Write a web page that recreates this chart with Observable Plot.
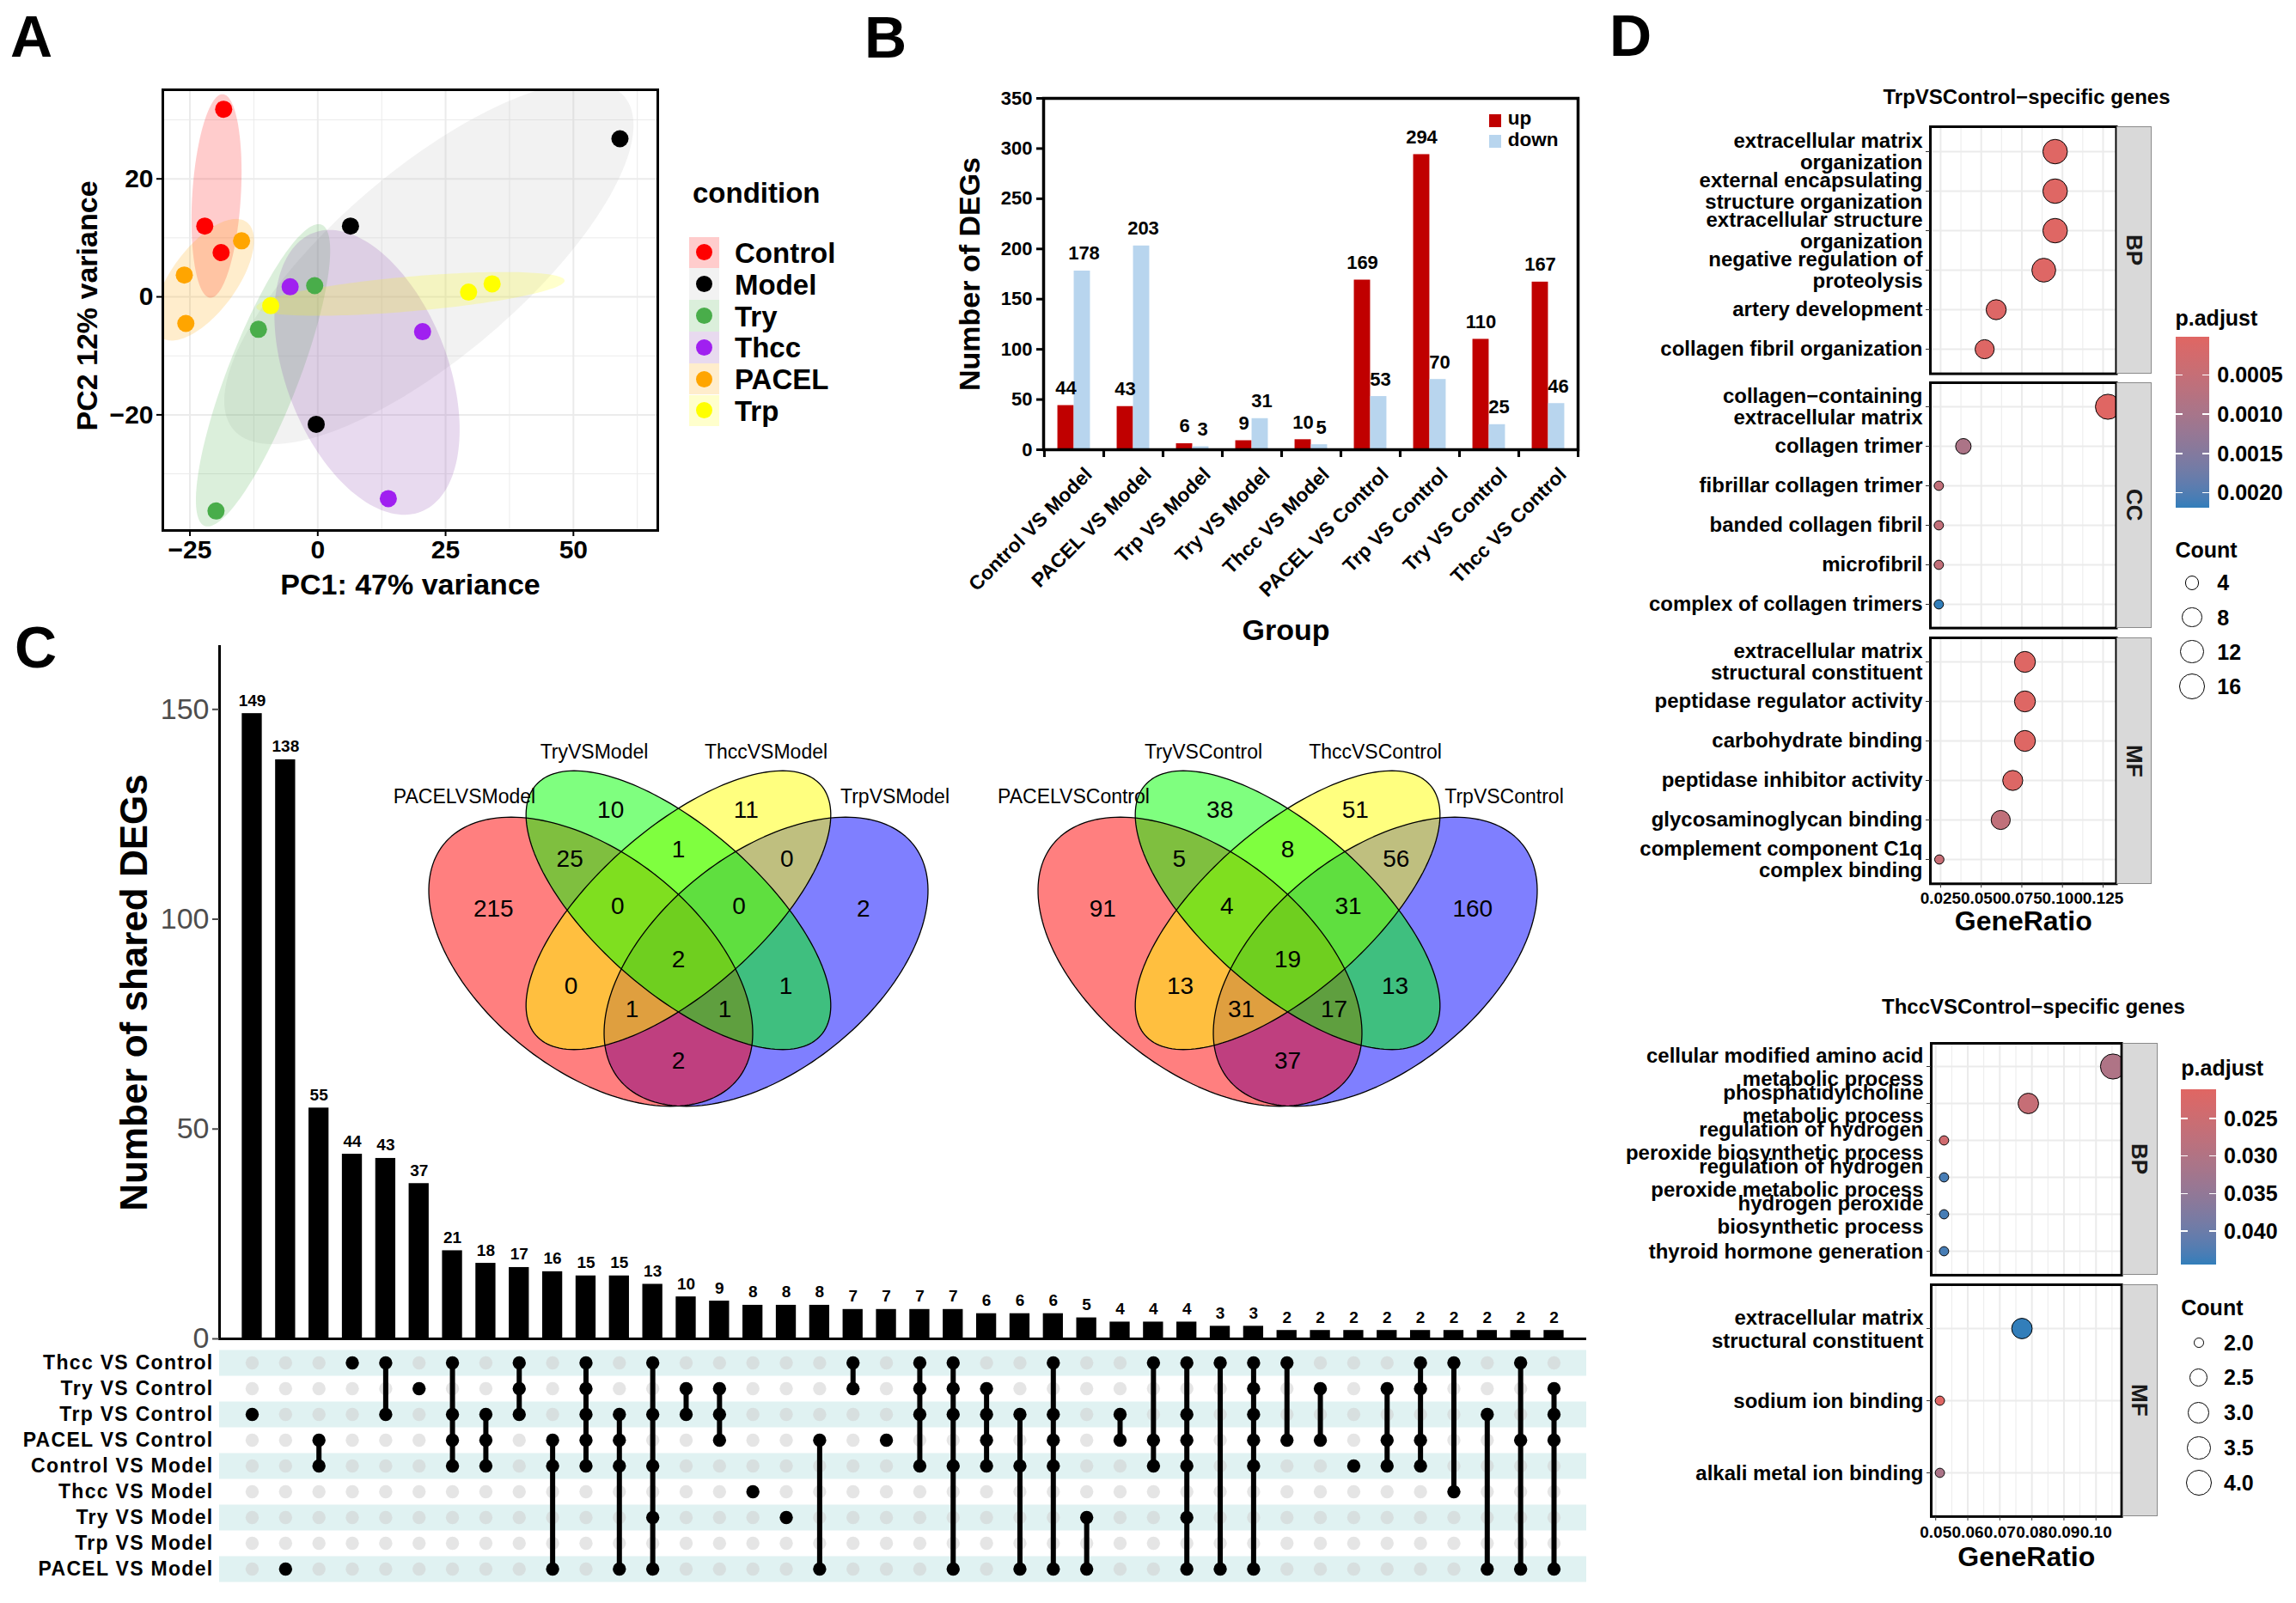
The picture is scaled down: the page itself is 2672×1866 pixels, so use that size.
<!DOCTYPE html>
<html>
<head>
<meta charset="utf-8">
<title>Figure</title>
<script src="https://cdn.jsdelivr.net/npm/d3@7"></script>
<script src="https://cdn.jsdelivr.net/npm/@observablehq/plot@0.6"></script>
<style>
html,body{margin:0;padding:0;background:#fff;}
#fig{position:relative;width:2672px;height:1866px;overflow:hidden;background:#fff;}
#fig svg{overflow:visible;}
.upsetm text{letter-spacing:1.3px;}
</style>
</head>
<body>
<div id="fig"></div>
<script>
// ======================= DATA =======================
// ---- Panel A: PCA ----
const pcaGroups = ["Control", "Model", "Try", "Thcc", "PACEL", "Trp"];
const pcaCondition = ["Control","Control","Control","Model","Model","Model","Try","Try","Try","Thcc","Thcc","Thcc","PACEL","PACEL","PACEL","Trp","Trp","Trp"];
const pcaPC1 = [-18.4, -22.1, -18.9, 59.1, 6.4, -0.3, -0.6, -11.6, -19.9, -5.4, 20.5, 13.8, -14.9, -26.1, -25.8, -9.2, 29.5, 34.1];
const pcaPC2 = [31.8, 12.0, 7.5, 26.8, 12.0, -21.6, 1.9, -5.5, -36.3, 1.7, -5.9, -34.2, 9.5, 3.7, -4.5, -1.5, 0.8, 2.2];
const pcaXTicks = [-25, 0, 25, 50];
const pcaYTicks = [-20, 0, 20];
const pcaPointColors = ["#ff0000", "#000000", "#49ad4a", "#a020f0", "#ffa500", "#ffff00"];
const pcaFillColors = ["#ff0000", "#bdbdbd", "#49ad4a", "#8e44ad", "#ffa500", "#ffff00"];

// ---- Panel B: DEG counts ----
const degGroups = ["Control VS Model", "PACEL VS Model", "Trp VS Model", "Try VS Model", "Thcc VS Model", "PACEL VS Control", "Trp VS Control", "Try VS Control", "Thcc VS Control"];
const degUp = [44, 43, 6, 9, 10, 169, 294, 110, 167];
const degDown = [178, 203, 3, 31, 5, 53, 70, 25, 46];
const degYTicks = [0, 50, 100, 150, 200, 250, 300, 350];

// ---- Panel C: UpSet ----
const upsetSets = ["Thcc VS Control", "Try VS Control", "Trp VS Control", "PACEL VS Control", "Control VS Model", "Thcc VS Model", "Try VS Model", "Trp VS Model", "PACEL VS Model"];
const upsetCounts = [149, 138, 55, 44, 43, 37, 21, 18, 17, 16, 15, 15, 13, 10, 9, 8, 8, 8, 7, 7, 7, 7, 6, 6, 6, 5, 4, 4, 4, 3, 3, 2, 2, 2, 2, 2, 2, 2, 2, 2];
// membership: indices into upsetSets
const upsetMembers = [[2],[8],[3,4],[0],[0,2],[1],[0,2,3,4],[2,3,4],[0,1,2],[3,4,8],[0,1,2,3,4],[2,3,4,8],[0,2,4,6,8],[1,2],[1,2,3],[5],[6],[3,8],[0,1],[3],[0,1,2,4],[0,1,2,4,8],[1,2,3,4],[2,4,8],[0,2,3,4,8],[6,8],[2,3],[0,3,4],[0,2,3,4,6,8],[0,8],[0,1,2,3,4,8],[0,3],[1,3],[4],[1,3,4],[0,1,3,4],[0,5],[2,8],[0,3,8],[1,2,3,8]];
const upsetYTicks = [0, 50, 100, 150];

// ---- Panel C: Venn diagrams (set order: PACEL, Try, Thcc, Trp) ----
const vennSetsModel = ["PACELVSModel", "TryVSModel", "ThccVSModel", "TrpVSModel"];
const vennSetsControl = ["PACELVSControl", "TryVSControl", "ThccVSControl", "TrpVSControl"];
const vennRegions = ["1000","0100","0010","0001","1100","0110","0011","1110","0111","1010","1111","0101","1011","1101","1001"];
const vennModelCounts = [215, 10, 11, 2, 25, 1, 0, 0, 0, 0, 2, 1, 1, 1, 2];
const vennControlCounts = [91, 38, 51, 160, 5, 8, 56, 4, 31, 13, 19, 13, 31, 17, 37];

// ---- Panel D: GO enrichment ----
const goTrpTerms = ["extracellular matrix\norganization", "external encapsulating\nstructure organization", "extracellular structure\norganization", "negative regulation of\nproteolysis", "artery development", "collagen fibril organization",
  "collagen\u2212containing\nextracellular matrix", "collagen trimer", "fibrillar collagen trimer", "banded collagen fibril", "microfibril", "complex of collagen trimers",
  "extracellular matrix\nstructural constituent", "peptidase regulator activity", "carbohydrate binding", "peptidase inhibitor activity", "glycosaminoglycan binding", "complement component C1q\ncomplex binding"];
const goTrpOnt = ["BP","BP","BP","BP","BP","BP","CC","CC","CC","CC","CC","CC","MF","MF","MF","MF","MF","MF"];
const goTrpRatio = [0.0955, 0.0955, 0.0955, 0.0885, 0.0592, 0.0521, 0.1280, 0.0390, 0.0239, 0.0239, 0.0239, 0.0239, 0.0769, 0.0769, 0.0769, 0.0694, 0.0620, 0.0242];
const goTrpCount = [15, 15, 15, 14, 9, 8, 16, 5, 3, 3, 3, 3, 10, 10, 10, 9, 8, 3];
const goTrpPadj = [0.00004, 0.00004, 0.00004, 0.00006, 0.00008, 0.00006, 0.000015, 0.00093, 0.00056, 0.00056, 0.00056, 0.00219, 0.00005, 0.00005, 0.00005, 0.00007, 0.00060, 0.00046];
const goTrpXTicks = [0.025, 0.05, 0.075, 0.1, 0.125];
const goTrpPTicks = [0.0005, 0.0010, 0.0015, 0.0020];
const goTrpSizeBreaks = [4, 8, 12, 16];

const goThccTerms = ["cellular modified amino acid\nmetabolic process", "phosphatidylcholine\nmetabolic process", "regulation of hydrogen\nperoxide biosynthetic process", "regulation of hydrogen\nperoxide metabolic process", "hydrogen peroxide\nbiosynthetic process", "thyroid hormone generation",
  "extracellular matrix\nstructural constituent", "sodium ion binding", "alkali metal ion binding"];
const goThccOnt = ["BP","BP","BP","BP","BP","BP","MF","MF","MF"];
const goThccRatio = [0.1053, 0.0789, 0.0526, 0.0526, 0.0526, 0.0526, 0.0769, 0.0513, 0.0513];
const goThccCount = [4, 3, 2, 2, 2, 2, 3, 2, 2];
const goThccPadj = [0.0304, 0.0262, 0.0242, 0.0432, 0.0432, 0.0432, 0.0444, 0.0211, 0.0310];
const goThccXTicks = [0.05, 0.06, 0.07, 0.08, 0.09, 0.10];
const goThccPTicks = [0.025, 0.030, 0.035, 0.040];
const goThccSizeBreaks = [2.0, 2.5, 3.0, 3.5, 4.0];

// ======================= HELPERS =======================
const FONT = "'Liberation Sans', Arial, Helvetica, sans-serif";
const fig = document.getElementById("fig");
const baseStyle = {fontFamily: FONT, background: "transparent", overflow: "visible", color: "#000"};

function put(node, left, top) {
  const d = document.createElement("div");
  d.style.cssText = `position:absolute;left:${left}px;top:${top}px;`;
  d.appendChild(node);
  fig.appendChild(d);
  return d;
}
function htmlText(str, x, baseline, o = {}) {
  const size = o.size || 20;
  const d = document.createElement("div");
  d.textContent = str;
  const tx = o.anchor === "middle" ? "-50%" : o.anchor === "end" ? "-100%" : "0";
  d.style.cssText = `position:absolute;left:${x}px;top:${baseline - 0.8465 * size}px;font-family:${o.family || FONT};font-weight:${o.weight || "normal"};font-size:${size}px;line-height:1;white-space:pre;color:${o.color || "#000"};transform:translateX(${tx});`;
  fig.appendChild(d);
  return d;
}
function box(x, y, w, h, css) {
  const d = document.createElement("div");
  d.style.cssText = `position:absolute;left:${x}px;top:${y}px;width:${w}px;height:${h}px;box-sizing:border-box;${css || ""}`;
  fig.appendChild(d);
  return d;
}
function minorTicks(ticks, dom) {
  const step = ticks[1] - ticks[0];
  const out = ticks.slice(1).map((v, i) => (v + ticks[i]) / 2);
  if (ticks[0] - step / 2 > dom[0]) out.unshift(ticks[0] - step / 2);
  if (ticks[ticks.length - 1] + step / 2 < dom[1]) out.push(ticks[ticks.length - 1] + step / 2);
  return out;
}
// minimum enclosing ellipse of a point set (Steiner ellipse for 3 points), expanded by e px
function enclosingEllipse(pts, e, n = 160) {
  const cx = d3.mean(pts, p => p[0]), cy = d3.mean(pts, p => p[1]);
  let sxx = 0, syy = 0, sxy = 0;
  for (const [x, y] of pts) { sxx += (x - cx) ** 2; syy += (y - cy) ** 2; sxy += (x - cx) * (y - cy); }
  sxx /= pts.length; syy /= pts.length; sxy /= pts.length;
  const m = (sxx + syy) / 2, dd = Math.sqrt(((sxx - syy) / 2) ** 2 + sxy ** 2);
  const l1 = m + dd, l2 = Math.max(m - dd, 0);
  const ang = 0.5 * Math.atan2(2 * sxy, sxx - syy);
  const a = Math.sqrt(2 * l1) + e, b = Math.sqrt(2 * l2) + e;
  return d3.range(n + 1).map(i => {
    const t = 2 * Math.PI * i / n, u = a * Math.cos(t), v = b * Math.sin(t);
    return [cx + u * Math.cos(ang) - v * Math.sin(ang), cy + u * Math.sin(ang) + v * Math.cos(ang)];
  });
}

// ======================= PANEL LETTERS =======================
htmlText("A", 12, 66, {size: 68, weight: "bold"});
htmlText("B", 1006, 67, {size: 68, weight: "bold"});
htmlText("C", 17, 777, {size: 68, weight: "bold"});
htmlText("D", 1873, 65, {size: 68, weight: "bold"});

// ======================= PANEL A =======================
try {
  const Wd = 800, Ht = 720, fL = 189, fT = 104, fR = 765, fB = 617;
  const xd = [-30.3, 66.5], yd = [-39.6, 35.1];
  const sx = (fR - fL) / (xd[1] - xd[0]), sy = (fB - fT) / (yd[1] - yd[0]);
  const samples = pcaPC1.map((x, i) => ({x, y: pcaPC2[i], g: pcaCondition[i]}));
  const ellMarks = pcaGroups.map((g, gi) => {
    const pts = samples.filter(s => s.g === g).map(s => [s.x * sx, s.y * sy]);
    const ring = enclosingEllipse(pts, 16).map(([u, v]) => ({x: u / sx, y: v / sy}));
    return Plot.line(ring, {x: "x", y: "y", fill: pcaFillColors[gi], fillOpacity: 0.2, stroke: "none", clip: true});
  });
  const svg = Plot.plot({
    width: Wd, height: Ht, marginLeft: fL, marginTop: fT, marginRight: Wd - fR, marginBottom: Ht - fB,
    style: baseStyle,
    x: {domain: xd}, y: {domain: yd},
    color: {domain: pcaGroups, range: pcaPointColors},
    marks: [
      Plot.gridX({ticks: minorTicks(pcaXTicks, xd), stroke: "#ebebeb", strokeOpacity: 1, strokeWidth: 1}),
      Plot.gridY({ticks: minorTicks(pcaYTicks, yd), stroke: "#ebebeb", strokeOpacity: 1, strokeWidth: 1}),
      Plot.gridX({ticks: pcaXTicks, stroke: "#ebebeb", strokeOpacity: 1, strokeWidth: 2}),
      Plot.gridY({ticks: pcaYTicks, stroke: "#ebebeb", strokeOpacity: 1, strokeWidth: 2}),
      ...ellMarks,
      Plot.dot(samples, {x: "x", y: "y", fill: "g", r: 10}),
      Plot.frame({stroke: "black", strokeWidth: 3}),
      Plot.axisX({ticks: pcaXTicks, tickSize: 7, tickPadding: 4, fontSize: 30, fontWeight: "bold", strokeWidth: 2, label: null}),
      Plot.axisY({ticks: pcaYTicks, tickSize: 7, tickPadding: 4, fontSize: 30, fontWeight: "bold", strokeWidth: 2, label: null}),
      Plot.text(["PC1: 47% variance"], {text: d => d, frameAnchor: "bottom", dy: 74, lineAnchor: "bottom", fontSize: 34, fontWeight: "bold"}),
      Plot.text(["PC2 12% variance"], {text: d => d, frameAnchor: "left", textAnchor: "middle", dx: -77, dy: -5, rotate: -90, lineAnchor: "bottom", fontSize: 34, fontWeight: "bold"})
    ]
  });
  put(svg, 0, 0);
  // legend
  htmlText("condition", 806, 236, {size: 33, weight: "bold"});
  pcaGroups.forEach((g, i) => {
    const top = 275.5 + i * 36.8;
    const bg = d3.interpolateRgb("#ffffff", pcaFillColors[i])(0.2);
    box(802, top, 35, 36.8, `background:${bg};`);
    box(819.5 - 9.5, top + 18.4 - 9.5, 19, 19, `background:${pcaPointColors[i]};border-radius:50%;`);
    htmlText(g, 855, top + 18.4 + 12, {size: 33, weight: "bold"});
  });
} catch (e) { console.error("Panel A", e); }

// ======================= PANEL B =======================
try {
  const L = 1000, T = 0, Wd = 860, Ht = 760;
  const fL = 1214, fT = 114, fR = 1836, fB = 523;
  const bw = (fR - fL) / degGroups.length, barW = 19;
  const up = degGroups.map((g, i) => ({g, v: degUp[i]}));
  const down = degGroups.map((g, i) => ({g, v: degDown[i]}));
  const svg = Plot.plot({
    width: Wd, height: Ht, marginLeft: fL - L, marginTop: fT - T, marginRight: L + Wd - fR, marginBottom: T + Ht - fB,
    style: baseStyle,
    x: {type: "band", domain: degGroups, padding: 0},
    y: {domain: [0, 350]},
    marks: [
      Plot.barY(up, {x: "g", y: "v", fill: "#c00000", insetLeft: bw / 2 - barW, insetRight: bw / 2}),
      Plot.barY(down, {x: "g", y: "v", fill: "#b8d5ee", insetLeft: bw / 2, insetRight: bw / 2 - barW}),
      Plot.text(up, {x: "g", y: "v", text: d => String(d.v), dx: -barW / 2, dy: -13, lineAnchor: "bottom", fontSize: 22, fontWeight: "bold"}),
      Plot.text(down, {x: "g", y: "v", text: d => String(d.v), dx: barW / 2 + 2, dy: -13, lineAnchor: "bottom", fontSize: 22, fontWeight: "bold"}),
      Plot.frame({stroke: "black", strokeWidth: 3.5}),
      Plot.axisY({ticks: degYTicks, tickSize: 8, tickPadding: 5, fontSize: 22, fontWeight: "bold", strokeWidth: 3, label: null}),
      Plot.axisX({tickSize: 9, tickFormat: () => "", dx: -bw / 2, strokeWidth: 3, label: null}),
      Plot.axisX({tickSize: 9, tickFormat: () => "", dx: bw / 2, strokeWidth: 3, label: null}),
      Plot.axisX({tickSize: 0, tickPadding: 25, tickRotate: -45, dx: 17, fontSize: 23, fontWeight: "bold", label: null}),
      Plot.text(["Number of DEGs"], {text: d => d, frameAnchor: "left", textAnchor: "middle", dx: -75, rotate: -90, lineAnchor: "bottom", fontSize: 34, fontWeight: "bold"}),
      Plot.text(["Group"], {text: d => d, frameAnchor: "bottom", dx: -29, dy: 221, lineAnchor: "bottom", fontSize: 34, fontWeight: "bold"})
    ]
  });
  put(svg, L, T);
  box(1732.5, 133, 14, 15, "background:#c00000;");
  box(1732.5, 157, 14, 15, "background:#b8d5ee;");
  htmlText("up", 1754.7, 146, {size: 22.5, weight: "bold"});
  htmlText("down", 1754.7, 171, {size: 22.5, weight: "bold"});
} catch (e) { console.error("Panel B", e); }

// ======================= PANEL C: UpSet =======================
try {
  const Wd = 1870, mL = 255, mR = 24;
  const ids = upsetCounts.map((_, i) => i);
  const xOpt = {type: "band", domain: ids, paddingInner: 0.4, paddingOuter: 0.678, align: 0.5, axis: null};
  const T1 = 730, H1 = 836, yTop = 752, yZero = 1558;
  const bars = upsetCounts.map((c, i) => ({id: i, c}));
  const svg1 = Plot.plot({
    width: Wd, height: H1, marginLeft: mL, marginRight: mR, marginTop: yTop - T1, marginBottom: T1 + H1 - yZero,
    style: baseStyle,
    x: xOpt, y: {domain: [0, 165]},
    marks: [
      Plot.barY(bars, {x: "id", y: "c", fill: "black"}),
      Plot.text(bars, {x: "id", y: "c", text: d => String(d.c), dy: -9, lineAnchor: "bottom", fontSize: 19, fontWeight: "bold"}),
      Plot.ruleY([0], {strokeWidth: 3}),
      Plot.frame({anchor: "left", strokeWidth: 3}),
      Plot.axisY({ticks: upsetYTicks, tickSize: 8, tickPadding: 4, fontSize: 34, fill: "#4d4d4d", stroke: "#4d4d4d", strokeWidth: 2, label: null}),
      Plot.text(["Number of shared DEGs"], {text: d => d, frameAnchor: "left", textAnchor: "middle", dx: -85, rotate: -90, lineAnchor: "bottom", fontSize: 44, fontWeight: "bold"})
    ]
  });
  put(svg1, 0, T1);

  const T2 = 1562, H2 = 290, rowTop = 1569.5, rowBot = 1841.7;
  const cells = [];
  ids.forEach(i => upsetSets.forEach((s, k) => cells.push({id: i, s, on: upsetMembers[i].includes(k)})));
  const links = ids.filter(i => upsetMembers[i].length > 1).map(i => ({id: i, s1: upsetSets[d3.min(upsetMembers[i])], s2: upsetSets[d3.max(upsetMembers[i])]}));
  const stripes = upsetSets.filter((_, k) => k % 2 === 0);
  const rowStep = (rowBot - rowTop) / upsetSets.length;
  const svg2 = Plot.plot({
    width: Wd, height: H2, marginLeft: mL, marginRight: mR, marginTop: rowTop - T2, marginBottom: T2 + H2 - rowBot,
    className: "upsetm",
    style: baseStyle,
    x: xOpt, y: {type: "point", domain: upsetSets, padding: 0.5},
    marks: [
      Plot.ruleY(stripes, {y: d => d, stroke: "#e0f2f2", strokeWidth: rowStep}),
      Plot.dot(cells.filter(c => !c.on), {x: "id", y: "s", r: 7.7, fill: "#cfcfcf", fillOpacity: 0.55}),
      Plot.ruleX(links, {x: "id", y1: "s1", y2: "s2", strokeWidth: 6, stroke: "black"}),
      Plot.dot(cells.filter(c => c.on), {x: "id", y: "s", r: 7.7, fill: "black"}),
      Plot.axisY({tickSize: 0, tickPadding: 7, fontSize: 23, fontWeight: "bold", label: null})
    ]
  });
  put(svg2, 0, T2);
} catch (e) { console.error("Panel C upset", e); }

// ======================= PANEL C: Venn =======================
function drawVenn(setNames, counts, centerX) {
  const Wv = 640, Hv = 440, top = 860, cx = Wv / 2, deg = Math.PI / 180;
  // standard 4-ellipse layout (sets: PACEL, Try, Thcc, Trp)
  const ells = [
    {cx: cx - 102, cy: 259, a: 219, b: 126, phi: 38.5 * deg},
    {cx: cx, cy: 199, a: 220.7, b: 95.2, phi: 41.3 * deg},
    {cx: cx, cy: 199, a: 220.7, b: 95.2, phi: -41.3 * deg},
    {cx: cx + 102, cy: 259, a: 219, b: 126, phi: -38.5 * deg}
  ];
  const fills = ["#ff0000", "#00ff00", "#ffff00", "#0000ff"];
  const order = [3, 0, 2, 1];
  const ring = e => d3.range(0, 361, 2).map(t => {
    const r = t * deg, u = e.a * Math.cos(r), v = e.b * Math.sin(r);
    return {x: e.cx + u * Math.cos(e.phi) - v * Math.sin(e.phi), y: e.cy + u * Math.sin(e.phi) + v * Math.cos(e.phi)};
  });
  const inside = (e, x, y) => {
    const dx = x - e.cx, dy = y - e.cy, c = Math.cos(e.phi), s = Math.sin(e.phi);
    const p = dx * c + dy * s, q = -dx * s + dy * c;
    return (p * p) / (e.a * e.a) + (q * q) / (e.b * e.b) <= 1;
  };
  // label each region at its most interior point (distance transform)
  const st = 2, nx = Wv / st, ny = Hv / st;
  const key = new Array(nx * ny);
  for (let j = 0; j < ny; j++) for (let i = 0; i < nx; i++) {
    const x = (i + 0.5) * st, y = (j + 0.5) * st;
    key[j * nx + i] = ells.map(e => inside(e, x, y) ? "1" : "0").join("");
  }
  const labels = vennRegions.map((r, k) => {
    const D = new Float64Array(nx * ny);
    for (let q = 0; q < D.length; q++) D[q] = key[q] === r ? 1e9 : 0;
    const get = (i, j) => (i < 0 || j < 0 || i >= nx || j >= ny) ? 0 : D[j * nx + i];
    for (let j = 0; j < ny; j++) for (let i = 0; i < nx; i++) {
      const q = j * nx + i; if (!D[q]) continue;
      D[q] = Math.min(D[q], get(i - 1, j) + 1, get(i, j - 1) + 1, get(i - 1, j - 1) + 1.4142, get(i + 1, j - 1) + 1.4142);
    }
    for (let j = ny - 1; j >= 0; j--) for (let i = nx - 1; i >= 0; i--) {
      const q = j * nx + i; if (!D[q]) continue;
      D[q] = Math.min(D[q], get(i + 1, j) + 1, get(i, j + 1) + 1, get(i + 1, j + 1) + 1.4142, get(i - 1, j + 1) + 1.4142);
    }
    const best = d3.max(D);
    let sx = 0, sy = 0, n = 0;
    for (let q = 0; q < D.length; q++) if (D[q] >= best - 0.5) { sx += (q % nx + 0.5) * st; sy += (Math.floor(q / nx) + 0.5) * st; n++; }
    return {x: sx / n, y: sy / n, n: String(counts[k])};
  });
  const cat = [
    {x: cx - 249, y: 67, t: setNames[0]},
    {x: cx - 98, y: 15.5, t: setNames[1]},
    {x: cx + 102, y: 15.5, t: setNames[2]},
    {x: cx + 252, y: 67, t: setNames[3]}
  ];
  const svg = Plot.plot({
    width: Wv, height: Hv, margin: 0,
    style: baseStyle,
    x: {domain: [0, Wv], range: [0, Wv], axis: null},
    y: {domain: [0, Hv], range: [0, Hv], axis: null},
    marks: [
      ...order.map(k => Plot.line(ring(ells[k]), {x: "x", y: "y", fill: fills[k], fillOpacity: 0.5, stroke: "none"})),
      ...order.map(k => Plot.line(ring(ells[k]), {x: "x", y: "y", fill: "none", stroke: "black", strokeWidth: 1.3})),
      Plot.text(labels, {x: "x", y: "y", text: "n", fontSize: 28}),
      Plot.text(cat, {x: "x", y: "y", text: "t", fontSize: 23})
    ]
  });
  put(svg, centerX - cx, top);
}
try { drawVenn(vennSetsModel, vennModelCounts, 789); } catch (e) { console.error("Venn1", e); }
try { drawVenn(vennSetsControl, vennControlCounts, 1498); } catch (e) { console.error("Venn2", e); }

// ======================= PANEL D =======================
function goPanel(cfg) {
  const rows = cfg.terms.map((t, i) => ({t, o: cfg.ont[i], x: cfg.ratio[i], c: cfg.count[i], p: cfg.padj[i]}));
  const [x0, x1] = d3.extent(cfg.ratio), ex = (x1 - x0) * 0.05;
  const xDomain = [x0 - ex, x1 + ex];
  const [c0, c1] = d3.extent(cfg.count);
  const pDomain = d3.extent(cfg.padj);
  const rRange = [5.4, 14.6];
  const rOf = c => rRange[0] + (rRange[1] - rRange[0]) * Math.sqrt((c - c0) / (c1 - c0));
  const cRange = ["#e06663", "#327eba"];
  const colorFn = d3.scaleLinear().domain(pDomain).range(cRange).interpolate(d3.interpolateLab);
  const minor = minorTicks(cfg.xTicks, xDomain);
  cfg.facets.forEach((f, fi) => {
    const [fl, ft, fr, fb] = f.frame;
    const last = fi === cfg.facets.length - 1;
    const mL = 396, mR = 4, mT = 4, mB = last ? 100 : 4;
    const sub = rows.filter(r => r.o === f.name);
    const svg = Plot.plot({
      width: mL + (fr - fl) + mR, height: mT + (fb - ft) + mB,
      marginLeft: mL, marginRight: mR, marginTop: mT, marginBottom: mB,
      style: baseStyle,
      x: last ? {domain: xDomain} : {domain: xDomain, axis: null},
      y: {type: "point", domain: sub.map(r => r.t), padding: 0.6},
      color: {type: "linear", domain: pDomain, range: cRange, interpolate: "lab"},
      r: {type: "linear", domain: [0, 1], range: rRange},
      marks: [
        Plot.gridX({ticks: minor, stroke: "#ebebeb", strokeOpacity: 1, strokeWidth: 1}),
        Plot.gridX({ticks: cfg.xTicks, stroke: "#ebebeb", strokeOpacity: 1, strokeWidth: 2}),
        Plot.gridY({stroke: "#ebebeb", strokeOpacity: 1, strokeWidth: 2}),
        Plot.dot(sub, {x: "x", y: "t", r: d => 1e-6 + Math.sqrt((d.c - c0) / (c1 - c0)), fill: "p", stroke: "black", strokeWidth: 1, clip: true}),
        Plot.frame({stroke: "black", strokeWidth: 3}),
        Plot.axisY({tickSize: 5, tickPadding: 4, fontSize: 24, fontWeight: "bold", lineHeight: cfg.lineHeight, stroke: "#333", label: null}),
        last ? Plot.axisX({ticks: cfg.xTicks, tickSize: 5, tickPadding: cfg.axisPad, tickFormat: d3.format(cfg.tickFmt), fontSize: 19, fontWeight: "bold", stroke: "#333", label: null}) : null,
        last ? Plot.text(["GeneRatio"], {text: d => d, frameAnchor: "bottom", dy: cfg.titleDy, lineAnchor: "bottom", fontSize: 32, fontWeight: "bold"}) : null
      ].filter(Boolean)
    });
    put(svg, fl - mL, ft - mT);
    // facet strip
    const s = box(cfg.stripX[0], ft, cfg.stripX[1] - cfg.stripX[0], fb - ft, "background:#d9d9d9;border:1px solid #8a8a8a;display:flex;align-items:center;justify-content:center;");
    const span = document.createElement("span");
    span.textContent = f.name;
    span.style.cssText = `writing-mode:vertical-rl;font-family:${FONT};font-weight:bold;font-size:26px;line-height:1;color:#1a1a1a;`;
    s.appendChild(span);
  });
  // title
  htmlText(cfg.title, cfg.titleX, cfg.titleBase, {size: 24, weight: "bold", anchor: "middle"});
  // colour bar legend
  const lg = cfg.legend;
  htmlText("p.adjust", lg.x, lg.pTitleBase, {size: 25, weight: "bold"});
  const stops = d3.range(0, 21).map(i => `${colorFn(pDomain[0] + (pDomain[1] - pDomain[0]) * i / 20)} ${i * 5}%`).join(",");
  box(lg.x, lg.cbTop, lg.cbW, lg.cbH, `background:linear-gradient(to bottom, ${stops});`);
  const pf = d3.format(lg.pFmt);
  cfg.pTicks.forEach(v => {
    const y = lg.cbTop + (v - pDomain[0]) / (pDomain[1] - pDomain[0]) * lg.cbH;
    box(lg.x, y - 0.8, 8, 1.6, "background:#fff;");
    box(lg.x + lg.cbW - 8, y - 0.8, 8, 1.6, "background:#fff;");
    htmlText(pf(v), lg.labelX, y + 9, {size: 25, weight: "bold"});
  });
  // size legend
  htmlText("Count", lg.x, lg.cTitleBase, {size: 25, weight: "bold"});
  const sf = d3.format(lg.sFmt);
  cfg.sizeBreaks.forEach((c, i) => {
    const r = rOf(c) + 0.5, cy = lg.circleY0 + i * lg.circleStep;
    box(lg.circleX - r, cy - r, 2 * r, 2 * r, "border:1.3px solid #000;border-radius:50%;background:#fff;");
    htmlText(sf(c), lg.labelX, cy + 9, {size: 25, weight: "bold"});
  });
}
try {
  goPanel({
    terms: goTrpTerms, ont: goTrpOnt, ratio: goTrpRatio, count: goTrpCount, padj: goTrpPadj,
    xTicks: goTrpXTicks, tickFmt: ".3f", pTicks: goTrpPTicks, sizeBreaks: goTrpSizeBreaks,
    lineHeight: 1.04, axisPad: 5, titleDy: 54,
    facets: [
      {name: "BP", frame: [2246, 147, 2462.5, 434.6]},
      {name: "CC", frame: [2246, 445, 2462.5, 730.6]},
      {name: "MF", frame: [2246, 742.3, 2462.5, 1028.6]}
    ],
    stripX: [2463.4, 2504.3],
    title: "TrpVSControl\u2212specific genes", titleX: 2358.5, titleBase: 121,
    legend: {x: 2531.5, pTitleBase: 379, cbTop: 392.3, cbW: 39.3, cbH: 198.4, labelX: 2580.3, pFmt: ".4f",
             cTitleBase: 649, circleX: 2551, circleY0: 678.6, circleStep: 40.1, sFmt: "d"}
  });
} catch (e) { console.error("Panel D top", e); }
try {
  goPanel({
    terms: goThccTerms, ont: goThccOnt, ratio: goThccRatio, count: goThccCount, padj: goThccPadj,
    xTicks: goThccXTicks, tickFmt: ".2f", pTicks: goThccPTicks, sizeBreaks: goThccSizeBreaks,
    lineHeight: 1.12, axisPad: 6, titleDy: 58,
    facets: [
      {name: "BP", frame: [2247, 1214.4, 2468.6, 1484.3]},
      {name: "MF", frame: [2247, 1495.2, 2468.6, 1765.1]}
    ],
    stripX: [2469.6, 2510.6],
    title: "ThccVSControl\u2212specific genes", titleX: 2366.4, titleBase: 1180,
    legend: {x: 2538.3, pTitleBase: 1252, cbTop: 1267.7, cbW: 40.4, cbH: 203.9, labelX: 2588, pFmt: ".3f",
             cTitleBase: 1531, circleX: 2558.8, circleY0: 1562.7, circleStep: 40.9, sFmt: ".1f"}
  });
} catch (e) { console.error("Panel D bottom", e); }
</script>
</body>
</html>
